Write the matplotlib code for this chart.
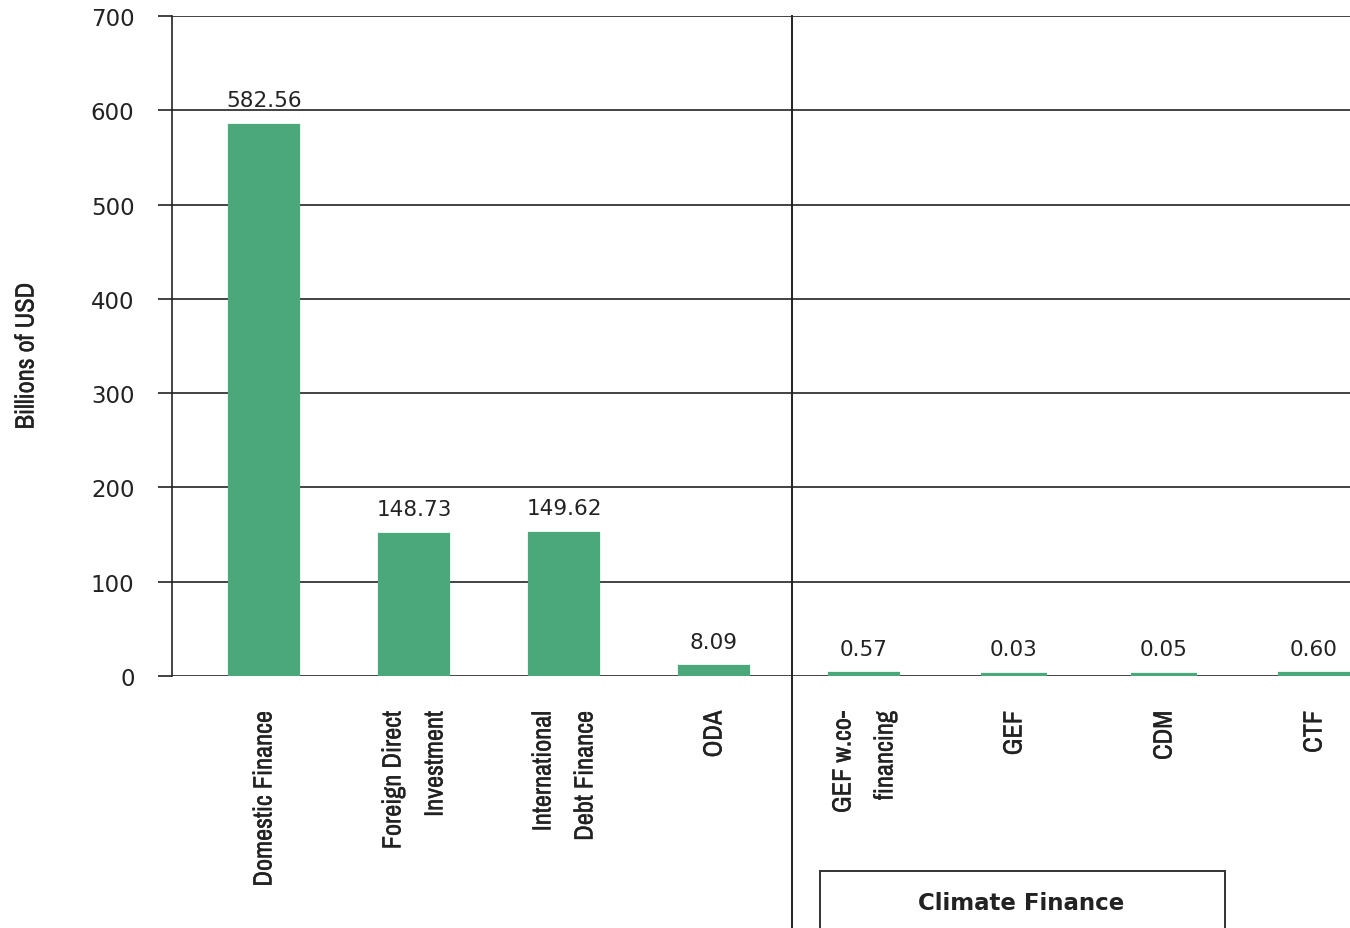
import matplotlib
matplotlib.use("Agg")
import matplotlib.pyplot as plt
import matplotlib.patheffects as pe
from matplotlib.patches import Rectangle
import numpy as np

# data
categories = ["Domestic Finance", "Foreign Direct\nInvestment", "International\nDebt Finance", "ODA",
              "GEF w.co-\nfinancing", "GEF", "CDM", "CTF"]
values = [582.56, 148.73, 149.62, 8.09, 0.57, 0.03, 0.05, 0.60]
value_labels = ["582.56", "148.73", "149.62", "8.09", "0.57", "0.03", "0.05", "0.60"]
yticks = [0, 100, 200, 300, 400, 500, 600, 700]

GREEN = "#4aa87a"
INK = "#222222"
NARROW = ["Archivo Narrow", "DejaVu Sans"]
# slightly heavier strokes for the narrow font
THICK = [pe.withStroke(linewidth=0.25, foreground=INK)]

fig = plt.figure(figsize=(13.5, 9.29), dpi=100, facecolor="white")
ax = fig.add_axes([172 / 1350, 1 - 677 / 929, 1 - 172 / 1350, 660 / 929])

x = np.arange(len(categories))
# thick same-colour edge keeps the tiny climate-finance bars visible, as in the original
ax.bar(x, values, width=0.438, color=GREEN, edgecolor=GREEN, linewidth=4.5, zorder=2)

for xi, v, lab in zip(x, values, value_labels):
    ax.annotate(lab, (xi, v), xytext=(0, 12), textcoords="offset points",
                ha="center", va="bottom", fontsize=15.5, color=INK)

ax.set_xlim(-0.613, 7.24)
ax.set_ylim(0, 700)
ax.set_yticks(yticks)
ax.set_yticklabels([str(t) for t in yticks], fontsize=16.5, color=INK)
ax.tick_params(axis="y", length=10, width=1.2, pad=17, color=INK)
ax.yaxis.grid(True, color=INK, linewidth=1.2)
ax.set_axisbelow(True)

ax.set_xticks(x)
ax.set_xticklabels(categories, rotation=90, ha="center", va="top", multialignment="right",
                   linespacing=2.0, fontsize=19, family=NARROW, color=INK)
for t in ax.get_xticklabels():
    t.set_path_effects(THICK)
ax.tick_params(axis="x", length=0, pad=25)

for side in ["top", "right", "bottom"]:
    ax.spines[side].set_visible(False)
ax.spines["left"].set_color(INK)
ax.spines["left"].set_linewidth(1.2)

# separator between the two groups, running down to the figure bottom
ax.axvline(3.52, ymin=-0.4, ymax=1, color=INK, linewidth=1.4, clip_on=False, zorder=3)

fig.text(26 / 1350, 1 - 357 / 929, "Billions of USD", rotation=90, ha="center", va="center",
         fontsize=19, family=NARROW, color=INK, path_effects=THICK)

# "Climate Finance" box at the bottom
fig.patches.append(Rectangle((820 / 1350, -0.05), 405 / 1350, 0.05 + 1 - 872 / 929,
                             transform=fig.transFigure, fill=False, edgecolor="#333333", linewidth=1.4))
fig.text(1021 / 1350, 1 - 904 / 929, "Climate Finance", ha="center", va="center",
         fontsize=16.5, fontweight="bold", color=INK)

fig.savefig("out.png", dpi=100, facecolor="white")
